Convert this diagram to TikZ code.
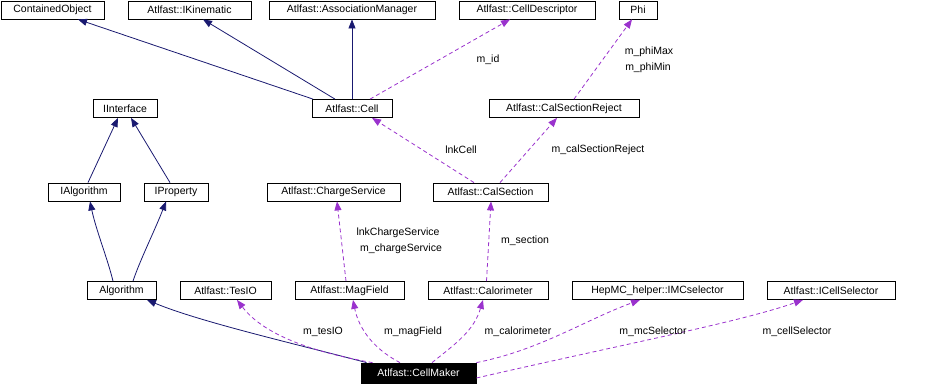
\documentclass[tikz,border=0pt]{standalone}
\usepackage{fontspec}
\setmainfont{Liberation Sans}
\usetikzlibrary{arrows.meta}
\definecolor{navy}{RGB}{25,25,112}
\definecolor{orchid}{RGB}{154,50,205}
\begin{document}
\begin{tikzpicture}[x=1pt,y=-1pt,
  box/.style={draw=black,line width=0.8pt,fill=white,inner sep=0pt,minimum height=18pt,font=\fontsize{10.5}{12}\selectfont},
  inh/.style={draw=navy,line width=0.8pt,-{Triangle[length=9pt,width=7pt]}},
  use/.style={draw=orchid,line width=0.8pt,dash pattern=on 4pt off 3pt,-{Triangle[length=9pt,width=7pt]}},
  lbl/.style={font=\fontsize{10.5}{12}\selectfont,inner sep=0pt}]
\useasboundingbox (0,0) rectangle (926,384);
% row 1
\node[box,minimum width=103pt] (co) at (52.5,10) {ContainedObject};
\node[box,minimum width=123pt] (ik) at (189.5,10) {Atlfast::IKinematic};
\node[box,minimum width=166pt] (am) at (352,10) {Atlfast::AssociationManager};
\node[box,minimum width=136pt] (cd) at (527,10) {Atlfast::CellDescriptor};
\node[box,minimum width=38pt] (phi) at (638,10) {Phi};
% row 2
\node[box,minimum width=64pt] (ii) at (125,108.5) {IInterface};
\node[box,minimum width=80pt] (cell) at (352,108.5) {Atlfast::Cell};
\node[box,minimum width=150pt] (csr) at (564,108.5) {Atlfast::CalSectionReject};
% row 3
\node[box,minimum width=72pt] (ialg) at (84,192) {IAlgorithm};
\node[box,minimum width=64pt] (iprop) at (176,192) {IProperty};
\node[box,minimum width=133pt] (chs) at (333.5,192) {Atlfast::ChargeService};
\node[box,minimum width=115pt] (cs) at (490.5,192) {Atlfast::CalSection};
% row 4
\node[box,minimum width=69pt] (alg) at (121.5,290.5) {Algorithm};
\node[box,minimum width=91pt] (tes) at (225.5,290.5) {Atlfast::TesIO};
\node[box,minimum width=109pt] (mag) at (349.5,290.5) {Atlfast::MagField};
\node[box,minimum width=120pt] (calo) at (488,290.5) {Atlfast::Calorimeter};
\node[box,minimum width=171pt] (mc) at (657.5,290.5) {HepMC\_helper::IMCselector};
\node[box,minimum width=128pt] (ics) at (831,290.5) {Atlfast::ICellSelector};
% row 5
\node[box,fill=black,text=white,minimum width=115pt,minimum height=20pt] (cm) at (418.5,373) {Atlfast::CellMaker};

% inheritance
\draw[inh] ([xshift=-39pt]cell.north) -- ([xshift=25.5pt]co.south);
\draw[inh] ([xshift=-17pt]cell.north) -- ([xshift=13.5pt]ik.south);
\draw[inh] (cell.north) -- (am.south);
\draw[inh] ([xshift=4pt]ialg.north) -- ([xshift=-7pt]ii.south);
\draw[inh] ([xshift=-6pt]iprop.north) -- ([xshift=6pt]ii.south);
\draw[inh] ([xshift=-8.5pt]alg.north) .. controls (108,260) and (96,230) .. ([xshift=6pt]ialg.south);
\draw[inh] ([xshift=11.5pt]alg.north) .. controls (140,260) and (155,230) .. ([xshift=-10pt]iprop.south);
\draw[inh] ([xshift=-52pt]cm.north) .. controls (300,345) and (200,322) .. ([xshift=25.5pt]alg.south);

% usage
\draw[use] ([xshift=18pt]cell.north) -- ([xshift=-17pt]cd.south);
\draw[use] ([xshift=-16.5pt]cs.north) -- ([xshift=20pt]cell.south);
\draw[use] ([xshift=9.5pt]cs.north) -- ([xshift=-7pt]csr.south);
\draw[use] ([xshift=10pt]csr.north) -- ([xshift=-6pt]phi.south);
\draw[use] ([xshift=-3.5pt]mag.north) -- ([xshift=3.5pt]chs.south);
\draw[use] ([xshift=-1.5pt]calo.north) -- ([xshift=0.5pt]cs.south);
\draw[use] ([xshift=-46pt]cm.north) .. controls (300,350) and (260,330) .. ([xshift=11.5pt]tes.south);
\draw[use] ([xshift=-18.5pt]cm.north) .. controls (370,347) and (358,325) .. ([xshift=3.5pt]mag.south);
\draw[use] ([xshift=13.5pt]cm.north) .. controls (458,342) and (474,330) .. ([xshift=-5pt]calo.south);
\draw[use] (cm.north east) .. controls (540,350) and (585,320) .. ([xshift=-17.5pt]mc.south);
\draw[use] ([yshift=-5pt]cm.east) .. controls (620,345) and (740,322) .. ([xshift=-28pt]ics.south);

% labels
\node[lbl] (l1) at (488,60) {m\_id};
\node[lbl] (l2) at (649,52) {m\_phiMax};
\node[lbl] (l3) at (648,68) {m\_phiMin};
\node[lbl] (l4) at (461,150) {lnkCell};
\node[lbl] (l5) at (598,150) {m\_calSectionReject};
\node[lbl] (l6) at (398,233) {lnkChargeService};
\node[lbl] (l7) at (401,249) {m\_chargeService};
\node[lbl] (l8) at (525,241) {m\_section};
\node[lbl] (l9) at (323,332) {m\_tesIO};
\node[lbl] (l10) at (413,332) {m\_magField};
\node[lbl] (l11) at (518,332) {m\_calorimeter};
\node[lbl] (l12) at (653,332) {m\_mcSelector};
\node[lbl] (l13) at (797,332) {m\_cellSelector};
\end{tikzpicture}
\end{document}
